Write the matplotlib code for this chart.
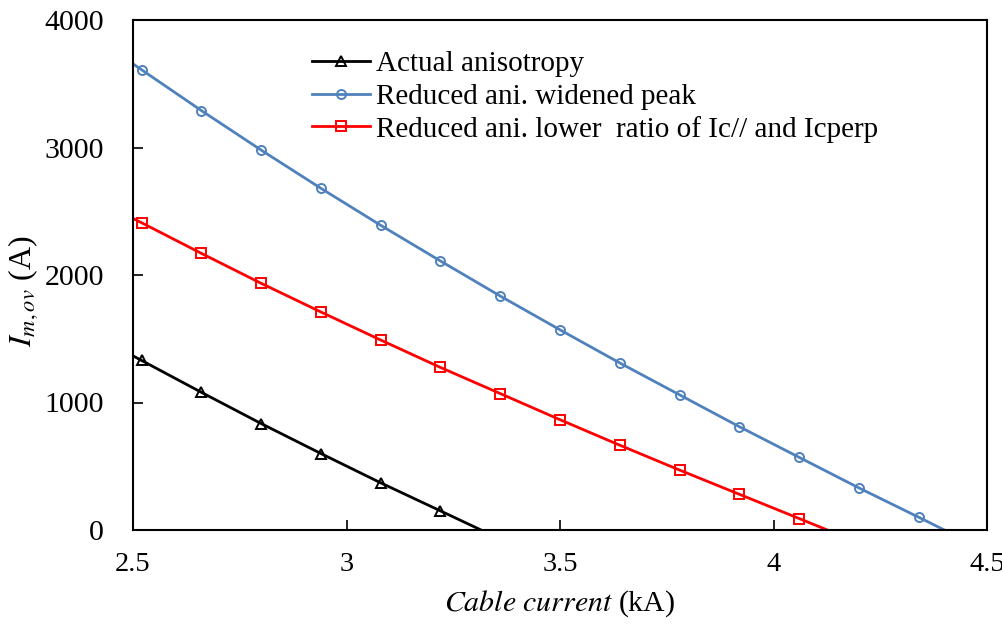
import matplotlib
matplotlib.use('Agg')
import matplotlib.pyplot as plt

plt.rcParams['font.family'] = ['Liberation Serif', 'DejaVu Serif']
plt.rcParams['mathtext.fontset'] = 'stix'

# cable current (kA) at the marker positions
x_pts = [2.52, 2.66, 2.80, 2.94, 3.08, 3.22, 3.36, 3.50, 3.64, 3.78, 3.92, 4.06, 4.20, 4.34]

actual = [1330, 1080, 835, 600, 370, 150]
widened = [3610, 3290, 2980, 2680, 2390, 2110, 1835, 1570, 1310, 1060, 810, 570, 330, 100]
lower_ratio = [2410, 2170, 1935, 1710, 1490, 1275, 1070, 865, 665, 470, 280, 90]

# line runs from the left axis edge down to zero current
actual_ends = [(2.50, 1366), (3.315, 0)]
widened_ends = [(2.50, 3656), (4.40, 0)]
lower_ends = [(2.50, 2444), (4.126, 0)]

labels = ['Actual anisotropy', 'Reduced ani. widened peak',
          'Reduced ani. lower  ratio of Ic// and Icperp']


def full_line(ys, ends):
    xs = [ends[0][0]] + x_pts[:len(ys)] + [ends[1][0]]
    vs = [ends[0][1]] + list(ys) + [ends[1][1]]
    return xs, vs


fig = plt.figure(figsize=(10.03, 6.25), dpi=100)
ax = fig.add_axes([0.1326, 0.152, 0.8515, 0.816])

series = [(actual, actual_ends, 'black', '^'),
          (widened, widened_ends, '#4f81bd', 'o'),
          (lower_ratio, lower_ends, '#ff0000', 's')]
for (ys, ends, col, mk), lab in zip(series, labels):
    xs, vs = full_line(ys, ends)
    ax.plot(xs, vs, color=col, lw=2.0, marker=mk, markersize=6.5,
            markerfacecolor='none', markeredgecolor=col, markeredgewidth=1.4,
            markevery=slice(1, len(xs) - 1), label=lab)

ax.set_xlim(2.5, 4.5)
ax.set_ylim(0, 4000)
ax.set_xticks([2.5, 3, 3.5, 4, 4.5])
ax.set_xticklabels(['2.5', '3', '3.5', '4', '4.5'])
ax.set_yticks([0, 1000, 2000, 3000, 4000])
ax.tick_params(direction='in', length=7, width=1.2, labelsize=21.5)
ax.tick_params(axis='x', pad=16, labelsize=20.5)
ax.tick_params(axis='y', pad=21)
for s in ax.spines.values():
    s.set_linewidth(1.5)

ax.set_xlabel(r'$\mathit{Cable\ current}$ (kA)', fontsize=21.5, labelpad=8)
ax.set_ylabel(r'$I_{m,ov}$ (A)', fontsize=23)
ax.yaxis.set_label_coords(-0.109, 0.469)

ax.legend(loc='upper left', bbox_to_anchor=(0.196, 0.962), frameon=False,
          fontsize=21, handlelength=2.0, handletextpad=0.2,
          labelspacing=0.2, borderaxespad=0)

fig.savefig('out.png', dpi=100)
